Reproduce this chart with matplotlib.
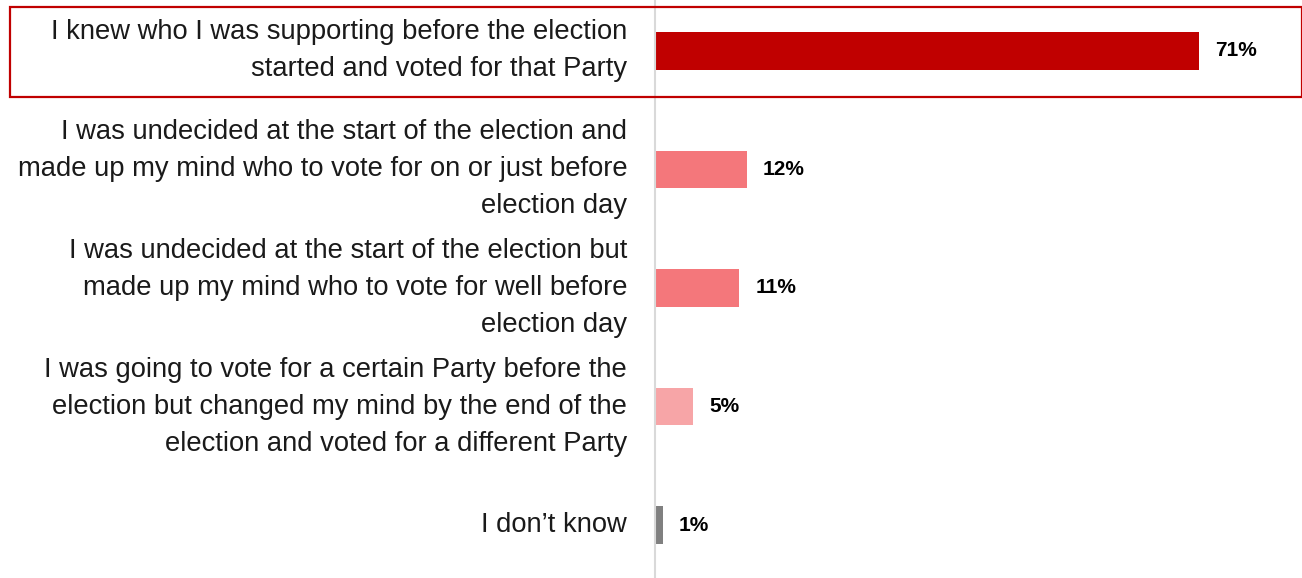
import matplotlib
matplotlib.use("Agg")
import matplotlib.pyplot as plt
from matplotlib.patches import Rectangle

# Survey answers and share of respondents (%)
answers = [
    "I knew who I was supporting before the election\nstarted and voted for that Party",
    "I was undecided at the start of the election and\nmade up my mind who to vote for on or just before\nelection day",
    "I was undecided at the start of the election but\nmade up my mind who to vote for well before\nelection day",
    "I was going to vote for a certain Party before the\nelection but changed my mind by the end of the\nelection and voted for a different Party",
    "I don\u2019t know",
]
shares = [71, 12, 11, 5, 1]
bar_colors = ["#C00000", "#F4777B", "#F4777B", "#F7A5A7", "#808080"]

plt.rcParams["font.family"] = ["Liberation Sans", "DejaVu Sans"]

fig = plt.figure(figsize=(13.02, 5.78), dpi=100)
ax = fig.add_axes([655 / 1302, 0, 1 - 655 / 1302, 1])

y = list(range(len(shares)))
ax.barh(y, shares, height=0.32, color=bar_colors)
ax.set_xlim(0, 84.5)
ax.set_ylim(4.447, -0.43)

for yi, v in zip(y, shares):
    ax.text(v + 2.1, yi, f"{v}%", va="center", ha="left",
            fontsize=15, fontweight="bold", color="#000000")

ax.set_yticks(y)
ax.set_yticklabels(answers, fontsize=19.7, color="#1a1a1a", linespacing=1.55,
                   ha="right", va="center")
ax.tick_params(axis="y", length=0, pad=20)
ax.set_xticks([])
for s in ["top", "right", "bottom"]:
    ax.spines[s].set_visible(False)
ax.spines["left"].set_color("#D9D9D9")
ax.spines["left"].set_linewidth(1.5)

# highlight box around first answer
fig.patches.append(Rectangle((10 / 1302, 1 - 97 / 578), 1 - 10 / 1302, 90 / 578,
                             transform=fig.transFigure, fill=False,
                             edgecolor="#C00000", linewidth=1.6))

fig.savefig("out.png", dpi=100)
